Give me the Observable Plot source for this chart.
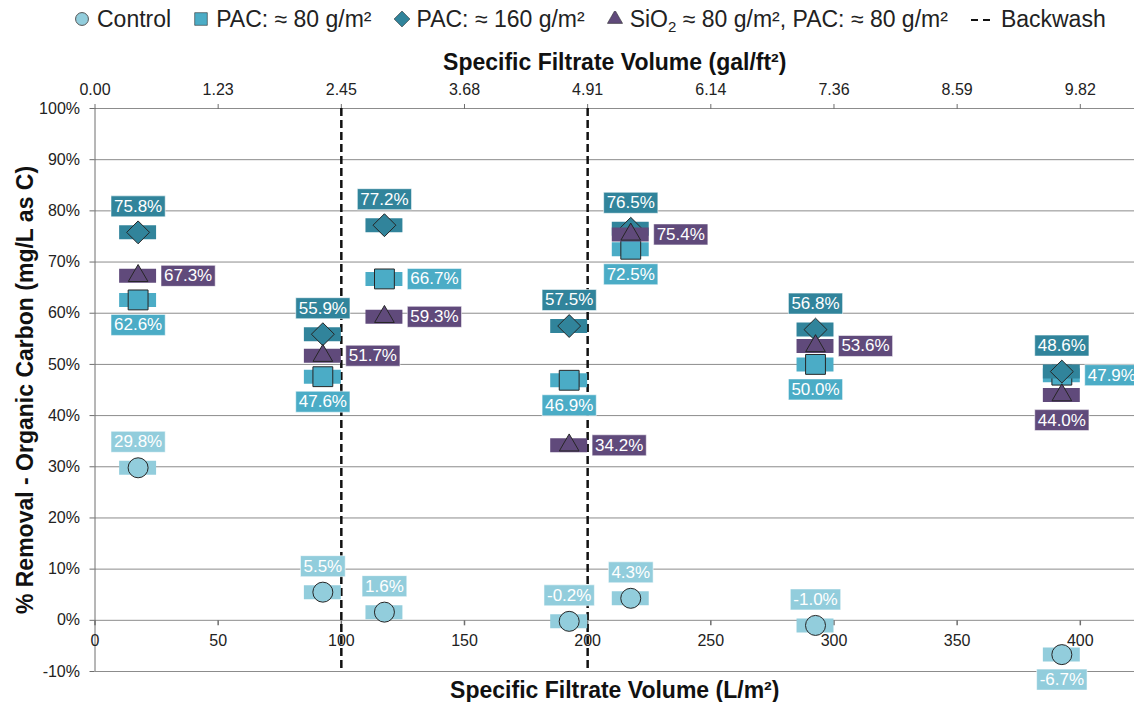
<!DOCTYPE html>
<html>
<head>
<meta charset="utf-8">
<script src="https://cdn.jsdelivr.net/npm/d3@7"></script>
<script src="https://cdn.jsdelivr.net/npm/@observablehq/plot@0.6"></script>
<style>
  html, body { margin: 0; padding: 0; background: white; }
  body { width: 1134px; height: 702px; overflow: hidden; font-family: "Liberation Sans", Arial, sans-serif; color: #222; }
  #legend { height: 38px; display: flex; align-items: center; padding-left: 74px; font-size: 23px; white-space: nowrap; }
  .item { display: flex; align-items: center; margin-right: 22px; }
  .item svg { margin-right: 7px; }
  sub { font-size: 15px; vertical-align: -5px; line-height: 0; }
</style>
</head>
<body>
<div id="legend"></div>
<div id="chart"></div>
<script>
// ---- data ----
const xMid = [17.5, 92.5, 117.5, 192.5, 217.5, 292.5, 392.5];
const intervalStart = [10, 85, 110, 185, 210, 285, 385];
const intervalEnd = [25, 100, 125, 200, 225, 300, 400];

const controlValues = [29.8, 5.5, 1.6, -0.2, 4.3, -1.0, -6.7];
const pac80Values = [62.6, 47.6, 66.7, 46.9, 72.5, 50.0, 47.9];
const pac160Values = [75.8, 55.9, 77.2, 57.5, 76.5, 56.8, 48.6];
const sio2Values = [67.3, 51.7, 59.3, 34.2, 75.4, 53.6, 44.0];

const controlLabelPos = ["above", "above", "above", "above", "above", "above", "below"];
const pac80LabelPos = ["below", "below", "right", "below", "below", "below", "right"];
const pac160LabelPos = ["above", "above", "above", "above", "above", "above", "above"];
const sio2LabelPos = ["right", "right", "right", "right", "right", "right", "below"];

const backwash = [100, 200];
const xTicks = [0, 50, 100, 150, 200, 250, 300, 350, 400];
const galLabels = ["0.00", "1.23", "2.45", "3.68", "4.91", "6.14", "7.36", "8.59", "9.82"];
const yTicks = [-10, 0, 10, 20, 30, 40, 50, 60, 70, 80, 90, 100];

const seriesNames = ["Control", "PAC: ≈ 80 g/m²", "PAC: ≈ 160 g/m²", "SiO₂ ≈ 80 g/m², PAC: ≈ 80 g/m²"];
const seriesColors = ["#92cddc", "#4bacc6", "#31849b", "#604a7b"];
const seriesSymbols = ["circle", "square", "diamond2", "triangle"];
const seriesR = [10, 11.2, 10.3, 7.3];

const seriesValues = [controlValues, pac80Values, pac160Values, sio2Values];
const seriesLabelPos = [controlLabelPos, pac80LabelPos, pac160LabelPos, sio2LabelPos];

// ---- build tables ----
const font = "'Liberation Sans', Arial, sans-serif";
const canvas = document.createElement("canvas").getContext("2d");
canvas.font = "17px " + font;

const rows = [];
seriesValues.forEach((vals, s) => {
  vals.forEach((v, i) => {
    const text = v.toFixed(1) + "%";
    rows.push({
      s, x: xMid[i], x1: intervalStart[i], x2: intervalEnd[i], v, text,
      pos: seriesLabelPos[s][i],
      w: canvas.measureText(text).width + 6
    });
  });
});

const offsets = {above: [0, -26], below: [0, 25], right: [50, 0]};

const boxSymbol = (w, h) => ({
  draw(ctx) {
    ctx.moveTo(-w / 2, -h / 2);
    ctx.lineTo(w / 2, -h / 2);
    ctx.lineTo(w / 2, h / 2);
    ctx.lineTo(-w / 2, h / 2);
    ctx.closePath();
  }
});
const tickDown = { draw(ctx) { ctx.moveTo(0, 0); ctx.lineTo(0, 5); } };

// ---- marks ----
const marks = [
  Plot.ruleY(yTicks, {stroke: "#8c8c8c", strokeWidth: 1}),
  Plot.ruleX([0], {stroke: "#6e6e6e", strokeWidth: 1}),
  Plot.axisY(yTicks, {tickFormat: d => d + "%", tickSize: 5, tickPadding: 10, label: null, fontSize: 16, stroke: "#6e6e6e"}),
  Plot.axisX(xTicks, {anchor: "top", tickFormat: d => galLabels[xTicks.indexOf(d)], tickSize: 5, tickPadding: 9, label: null, fontSize: 16, stroke: "#6e6e6e"}),
  Plot.dot(xTicks, {x: d => d, y: () => 0, symbol: tickDown, r: 3, fill: "none", stroke: "#6e6e6e"}),
  Plot.text(xTicks, {x: d => d, y: () => 0, text: d => String(d), dy: 21, fontSize: 16, fill: "#222"}),
  Plot.ruleX(backwash, {stroke: "#111", strokeWidth: 2.5, strokeDasharray: "8,4"}),
];

seriesValues.forEach((vals, s) => {
  const data = rows.filter(d => d.s === s);
  marks.push(
    Plot.ruleY(data, {y: "v", x1: "x1", x2: "x2", stroke: seriesColors[s], strokeWidth: 14}),
    Plot.dot(data, {x: "x", y: "v", symbol: seriesSymbols[s], r: seriesR[s], fill: seriesColors[s], stroke: "#262626", strokeWidth: 1})
  );
});

rows.forEach(d => {
  const [dx, dy] = offsets[d.pos];
  marks.push(
    Plot.dot([d], {x: "x", y: "v", dx, dy, symbol: boxSymbol(d.w, 21), r: 5, fill: seriesColors[d.s], stroke: "white", strokeOpacity: 0.55, strokeWidth: 1}),
    Plot.text([d], {x: "x", y: "v", dx, dy, text: "text", fill: "white", fontSize: 17})
  );
});

marks.push(
  Plot.text(["Specific Filtrate Volume (gal/ft²)"], {frameAnchor: "top", lineAnchor: "middle", dy: -46, text: d => d, fontSize: 23, fontWeight: "bold", fill: "#111"}),
  Plot.text(["Specific Filtrate Volume (L/m²)"], {frameAnchor: "bottom", lineAnchor: "middle", dy: 19, text: d => d, fontSize: 23, fontWeight: "bold", fill: "#111"}),
  Plot.text(["% Removal - Organic Carbon (mg/L as C)"], {frameAnchor: "left", textAnchor: "middle", lineAnchor: "middle", dx: -69, rotate: -90, text: d => d, fontSize: 23, fontWeight: "bold", fill: "#111"})
);

const chart = Plot.plot({
  width: 1134,
  height: 664,
  marginTop: 70,
  marginBottom: 31,
  marginLeft: 94.5,
  marginRight: 0,
  x: {domain: [0, 422]},
  y: {domain: [-10, 100]},
  style: {fontFamily: font, fontSize: "16px", color: "#222", background: "white", overflow: "visible"},
  marks
});
document.getElementById("chart").appendChild(chart);

// ---- legend ----
const legend = document.getElementById("legend");
function legendSymbol(i) {
  const sym = d3.symbol(
    [d3.symbolCircle, d3.symbolSquare, d3.symbolDiamond2, d3.symbolTriangle][i],
    [130, 160, 160, 100][i]
  )();
  return `<svg width="16" height="16" viewBox="-8 -8 16 16"><path d="${sym}" fill="${seriesColors[i]}" stroke="${i === 0 ? '#555' : '#333'}" stroke-width="${i === 0 ? 1 : 0.6}"></path></svg>`;
}
const legendHtml = seriesNames.map((name, i) => {
  const label = name.replace("SiO₂", "SiO<sub>2</sub>");
  return `<div class="item">${legendSymbol(i)}<span>${label}</span></div>`;
}).join("") +
  `<div class="item"><svg width="24" height="16"><line x1="1" y1="9" x2="24" y2="9" stroke="#111" stroke-width="2.2" stroke-dasharray="7,5"></line></svg><span>Backwash</span></div>`;
legend.innerHTML = legendHtml;
</script>
</body>
</html>
